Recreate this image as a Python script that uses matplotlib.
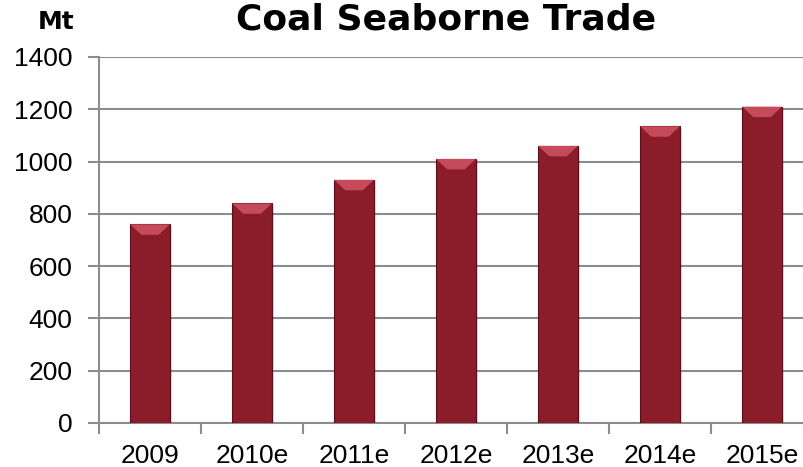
import numpy as np
import matplotlib.pyplot as plt
from matplotlib.patches import Polygon

years = ['2009', '2010e', '2011e', '2012e', '2013e', '2014e', '2015e']
trade_mt = [760, 840, 930, 1010, 1060, 1135, 1210]

bar_color = '#8b1c2a'
bevel_color = '#c64b5a'
grid_color = '#8c8c8c'

fig = plt.figure(figsize=(8.04, 4.67), dpi=100)
# axes runs a bit past the right edge, as in the source slide
ax = fig.add_axes([99 / 804, 44 / 467, 714 / 804, 366 / 467])

x = np.arange(len(years))
width = 0.39
bars = ax.bar(x, trade_mt, width=width, color=bar_color,
              edgecolor='#5c0f1a', linewidth=0.8, zorder=3)

# bevelled top on each bar
dx = 0.11
dy = 40
for xi, h in zip(x, trade_mt):
    left, right = xi - width / 2, xi + width / 2
    top = Polygon([(left, h), (right, h), (right - dx, h - dy), (left + dx, h - dy)],
                  closed=True, facecolor=bevel_color, edgecolor='none', zorder=4)
    ax.add_patch(top)
    # soft shadow on the right side
    ax.bar(xi + 0.025, h - 5, width=width, color='#000000', alpha=0.12,
           linewidth=0, zorder=2)

ax.set_xlim(-0.5, len(years) - 0.5)
ax.set_ylim(0, 1400)
ax.set_yticks(np.arange(0, 1401, 200))
ax.set_xticks(np.arange(len(years) + 1) - 0.5, minor=False)
ax.set_xticklabels([])
ax.set_xticks(x, minor=True)
ax.set_xticklabels(years, minor=True)

ax.grid(axis='y', color=grid_color, linewidth=1.5, zorder=0)
ax.set_axisbelow(True)
for side in ['top', 'right']:
    ax.spines[side].set_visible(False)
for side in ['left', 'bottom']:
    ax.spines[side].set_color(grid_color)
    ax.spines[side].set_linewidth(1.5)

ax.tick_params(axis='y', which='major', length=8, width=1.5, color=grid_color,
               labelsize=19, pad=11)
ax.tick_params(axis='x', which='major', length=8, width=1.5, color=grid_color)
ax.tick_params(axis='x', which='minor', length=0, labelsize=19, pad=15)
for lbl in ax.get_yticklabels() + ax.get_xticklabels(minor=True):
    lbl.set_fontfamily('Liberation Sans')

fig.text(446 / 804, 1 - 20 / 467, 'Coal Seaborne Trade', ha='center', va='center',
         fontsize=26, fontweight='bold', family='DejaVu Sans')
fig.text(56 / 804, 1 - 22 / 467, 'Mt', ha='center', va='center',
         fontsize=18, fontweight='bold', family='DejaVu Sans')

fig.savefig('out.png', dpi=100)
